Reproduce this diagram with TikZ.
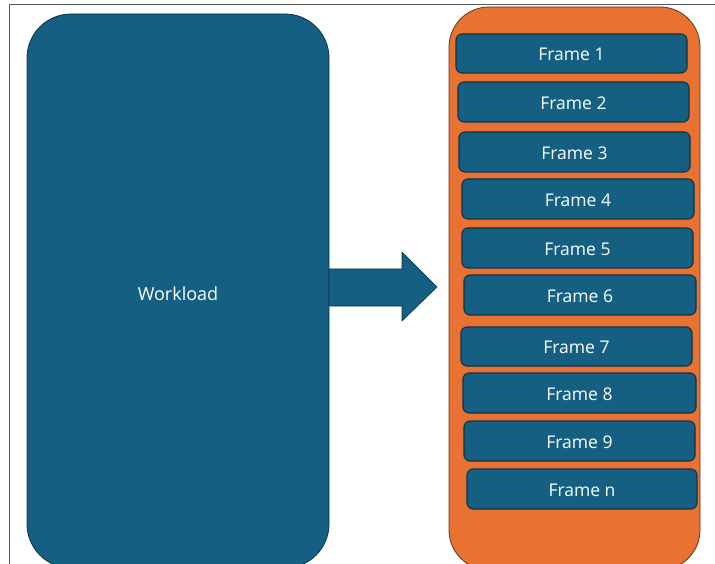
\documentclass[tikz,border=0pt]{standalone}
\usepackage{fontspec}
\setmainfont{Open Sans}
\definecolor{wblue}{HTML}{156082}
\definecolor{worange}{HTML}{E97132}
\definecolor{wline}{HTML}{0C3347}
\definecolor{oline}{HTML}{5A3A28}
\tikzset{
  bigbox/.style={draw=wline, line width=0.8pt, fill=wblue, rounded corners=44pt},
  framebox/.style={draw=wline, line width=1.1pt, fill=wblue, rounded corners=6pt},
  lbl/.style={text=white, font=\fontsize{17.5}{20}\selectfont},
}
\begin{document}
\begin{tikzpicture}[x=1pt,y=-1pt]
\useasboundingbox (0,0) rectangle (715,564);
\clip (0,0) rectangle (715,564);
\fill[white] (0,0) rectangle (715,564);
\draw[gray!70!black, line width=0.9pt] (9,4) rectangle (730,580);
% workload box
\draw[bigbox] (27,14) rectangle (329,568);
\node[lbl, font=\fontsize{18}{20}\selectfont] (work) at (178,294) {Workload};
% orange container
\draw[draw=oline, line width=0.8pt, fill=worange, rounded corners=40pt] (449,7) rectangle (700,570);
% arrow
\draw[draw=wline, line width=0.6pt, fill=wblue] (329,269) -- (402,269) -- (402,252) -- (437,287) -- (402,321) -- (402,306) -- (329,306) -- cycle;
% frames
\foreach \n/\xa/\ya/\xb/\yb/\t in {
  f1/456/34/687/73/Frame 1,
  f2/458/82/689/122/Frame 2,
  f3/459/132/690/172/Frame 3,
  f4/462/179/694/219/Frame 4,
  f5/462/228/693/268/Frame 5,
  f6/464/275/696/315/Frame 6,
  f7/461/327/692/366/Frame 7,
  f8/463/373/696/413/Frame 8,
  f9/464/421/695/461/Frame 9,
  fn/467/469/697/509/Frame n}{
  \draw[framebox] (\xa,\ya) rectangle (\xb,\yb);
  \node[lbl] (\n) at ({(\xa+\xb)/2},{(\ya+\yb)/2+1}) {\t};
}
\end{tikzpicture}
\end{document}
